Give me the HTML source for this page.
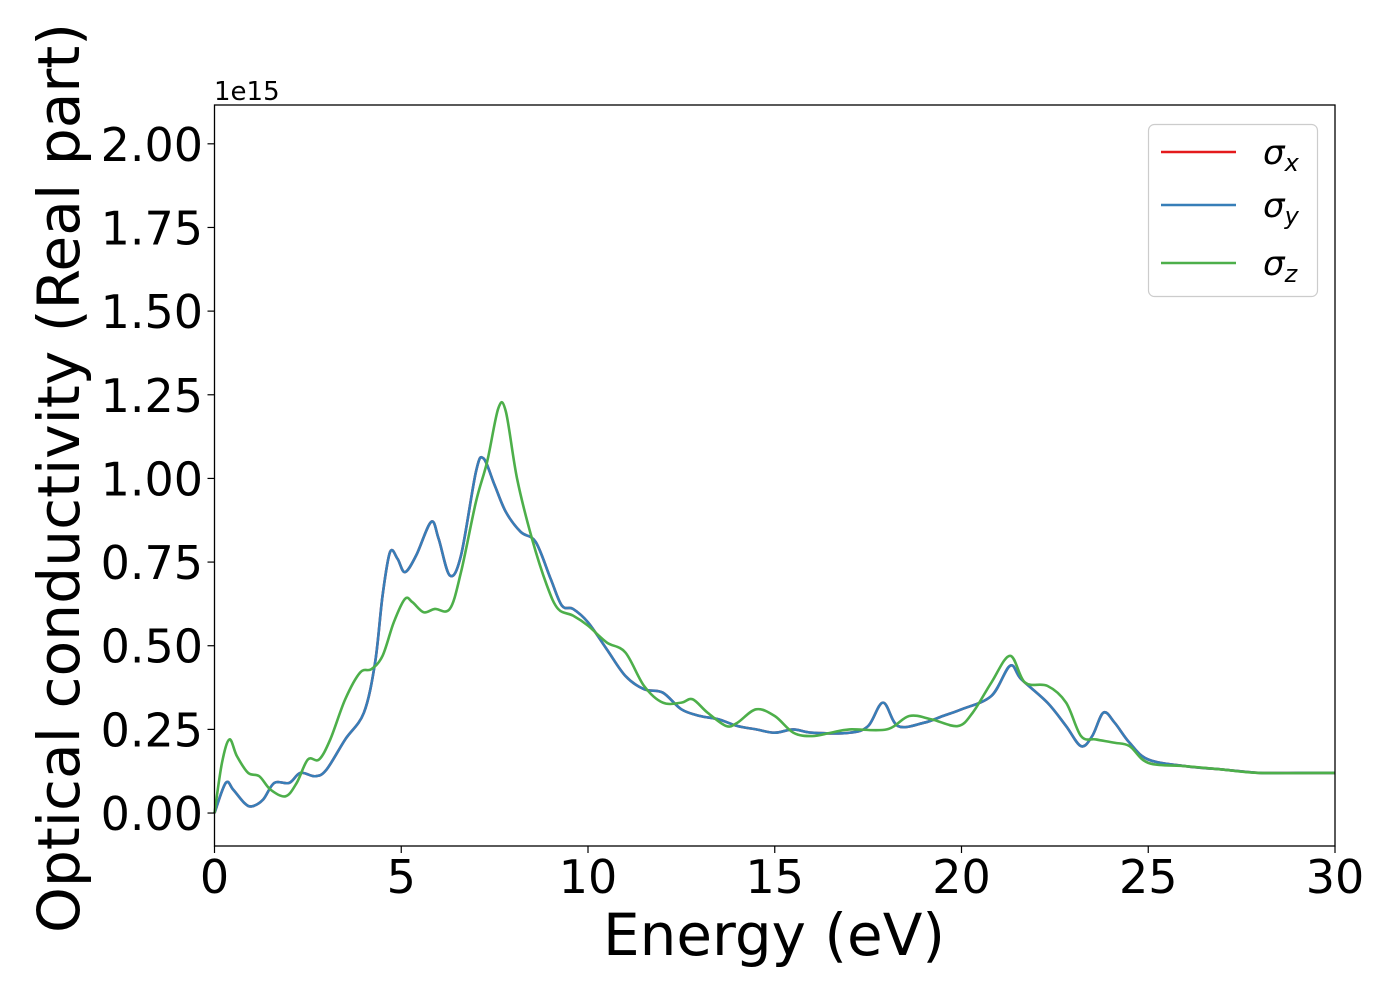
<!DOCTYPE html>
<html><head><meta charset="utf-8"><style>
html,body{margin:0;padding:0;background:#fff;}
svg{display:block;font-family:"DejaVu Sans","Liberation Sans",sans-serif;}
</style></head><body>
<svg id="chart" width="1400" height="1000" viewBox="0 0 1400 1000" xmlns="http://www.w3.org/2000/svg">
<rect x="0" y="0" width="1400" height="1000" fill="#fff"/>
<g id="plot"></g>
<g id="axes"></g>
<text x="214" y="100" font-size="26">1e15</text>
<text x="774" y="955" font-size="58" text-anchor="middle" textLength="342" lengthAdjust="spacingAndGlyphs">Energy (eV)</text>
<text transform="translate(79,478) rotate(-90)" font-size="58" text-anchor="middle" textLength="910" lengthAdjust="spacingAndGlyphs">Optical conductivity (Real part)</text>
<g>
<rect x="1148.5" y="124.5" width="169" height="172" rx="6" fill="#fff" fill-opacity="0.8" stroke="#ccc" stroke-width="1.2"/>
<line x1="1161" y1="152" x2="1236" y2="152" stroke="#e41a1c" stroke-width="2.5"/>
<text x="1263" y="164" font-size="34" font-style="italic">σ<tspan font-size="24" dy="7">x</tspan></text>
<line x1="1161" y1="205" x2="1236" y2="205" stroke="#377eb8" stroke-width="2.5"/>
<text x="1263" y="217" font-size="34" font-style="italic">σ<tspan font-size="24" dy="7">y</tspan></text>
<line x1="1161" y1="263" x2="1236" y2="263" stroke="#4daf4a" stroke-width="2.5"/>
<text x="1263" y="275" font-size="34" font-style="italic">σ<tspan font-size="24" dy="7">z</tspan></text>
</g>
</svg>
<script>
const energyXY = [0,0.3,0.5,0.8,1,1.3,1.6,2,2.3,2.7,3,3.5,4,4.3,4.5,4.7,4.9,5.1,5.4,5.8,6,6.3,6.6,7,7.2,7.5,7.8,8.2,8.6,9,9.3,9.6,10,10.5,11,11.5,12,12.5,13,13.5,14,14.5,15,15.5,16,17,17.5,17.9,18.3,19,19.5,20,20.8,21.3,21.6,22.3,22.8,23.2,23.5,23.8,24.1,24.5,25,26,27,28,29,30];
const sigmaX = [0,0.09,0.07,0.03,0.02,0.04,0.09,0.09,0.12,0.11,0.13,0.22,0.3,0.45,0.65,0.78,0.76,0.72,0.77,0.87,0.82,0.71,0.77,1.02,1.06,0.98,0.9,0.84,0.81,0.7,0.62,0.61,0.57,0.49,0.41,0.37,0.36,0.31,0.29,0.28,0.26,0.25,0.24,0.25,0.24,0.24,0.26,0.33,0.26,0.27,0.29,0.31,0.35,0.44,0.4,0.33,0.26,0.2,0.23,0.3,0.27,0.21,0.16,0.14,0.13,0.12,0.12,0.12];
const sigmaY = [0,0.09,0.07,0.03,0.02,0.04,0.09,0.09,0.12,0.11,0.13,0.22,0.3,0.45,0.65,0.78,0.76,0.72,0.77,0.87,0.82,0.71,0.77,1.02,1.06,0.98,0.9,0.84,0.81,0.7,0.62,0.61,0.57,0.49,0.41,0.37,0.36,0.31,0.29,0.28,0.26,0.25,0.24,0.25,0.24,0.24,0.26,0.33,0.26,0.27,0.29,0.31,0.35,0.44,0.4,0.33,0.26,0.2,0.23,0.3,0.27,0.21,0.16,0.14,0.13,0.12,0.12,0.12];
const energyZ = [0,0.2,0.4,0.6,0.9,1.2,1.5,1.9,2.2,2.5,2.8,3.1,3.5,3.9,4.2,4.5,4.8,5.1,5.3,5.6,5.9,6.3,6.6,7,7.3,7.6,7.8,8.1,8.5,8.9,9.2,9.6,10,10.5,11,11.5,12,12.5,12.8,13.2,13.7,14,14.5,15,15.5,16,16.5,17,18,18.6,19.2,19.9,20.3,20.8,21.3,21.7,22.3,22.8,23.2,23.6,24.1,24.5,25,26,27,28,30];
const sigmaZ = [0,0.15,0.22,0.17,0.12,0.11,0.07,0.05,0.09,0.16,0.16,0.22,0.34,0.42,0.43,0.47,0.57,0.64,0.63,0.6,0.61,0.61,0.72,0.93,1.05,1.21,1.2,1.0,0.82,0.68,0.61,0.59,0.56,0.51,0.48,0.38,0.33,0.33,0.34,0.3,0.26,0.27,0.31,0.29,0.24,0.23,0.24,0.25,0.25,0.29,0.28,0.26,0.3,0.39,0.47,0.39,0.38,0.33,0.23,0.22,0.21,0.2,0.15,0.14,0.13,0.12,0.12];
const xTicks = [0,5,10,15,20,25,30];
const xTickLabels = ["0","5","10","15","20","25","30"];
const yTicks = [0,0.25,0.5,0.75,1,1.25,1.5,1.75,2];
const yTickLabels = ["0.00","0.25","0.50","0.75","1.00","1.25","1.50","1.75","2.00"];

const L=214.5,R=1335,T=105,B=846;
const X0=0,X1=30,Y0=-0.0985,Y1=2.116;
const sx=v=>L+(v-X0)/(X1-X0)*(R-L);
const sy=v=>B-(v-Y0)/(Y1-Y0)*(B-T);
const NS="http://www.w3.org/2000/svg";
function mk(tag,attrs,parent){const e=document.createElementNS(NS,tag);for(const k in attrs)e.setAttribute(k,attrs[k]);parent.appendChild(e);return e;}
function pathFor(xs,ys){
  const p=xs.map((x,i)=>[sx(x),sy(ys[i])]);
  let d="M"+p[0][0].toFixed(2)+","+p[0][1].toFixed(2);
  for(let i=0;i<p.length-1;i++){
    const p0=p[Math.max(0,i-1)],p1=p[i],p2=p[i+1],p3=p[Math.min(p.length-1,i+2)];
    const c1=[p1[0]+(p2[0]-p0[0])/6,p1[1]+(p2[1]-p0[1])/6];
    const c2=[p2[0]-(p3[0]-p1[0])/6,p2[1]-(p3[1]-p1[1])/6];
    d+="C"+c1[0].toFixed(2)+","+c1[1].toFixed(2)+" "+c2[0].toFixed(2)+","+c2[1].toFixed(2)+" "+p2[0].toFixed(2)+","+p2[1].toFixed(2);
  }
  return d;
}
const plot=document.getElementById('plot');
const axes=document.getElementById('axes');
const series=[[energyXY,sigmaX,'#e41a1c','series-sigma-x'],[energyXY,sigmaY,'#377eb8','series-sigma-y'],[energyZ,sigmaZ,'#4daf4a','series-sigma-z']];
series.forEach(s=>{
  const e=mk('path',{d:pathFor(s[0],s[1]),fill:'none',stroke:s[2],'stroke-width':2.6,'stroke-linejoin':'round'},plot);
  
  
});
const frame=mk('rect',{x:L,y:T,width:R-L,height:B-T,fill:'none',stroke:'#000','stroke-width':1.3},axes);


xTicks.forEach((v,i)=>{
  const t=mk('line',{x1:sx(v),y1:B,x2:sx(v),y2:B+7,stroke:'#000','stroke-width':1.2},axes);
  
  
  const l=mk('text',{x:sx(v),y:893,'font-size':46,'text-anchor':'middle'},axes);
  
  
  l.textContent=xTickLabels[i];
});
yTicks.forEach((v,i)=>{
  const t=mk('line',{x1:L-7,y1:sy(v),x2:L,y2:sy(v),stroke:'#000','stroke-width':1.2},axes);
  
  
  const l=mk('text',{x:203,y:sy(v)+17,'font-size':46,'text-anchor':'end'},axes);
  
  
  l.textContent=yTickLabels[i];
});
</script>
</body></html>
